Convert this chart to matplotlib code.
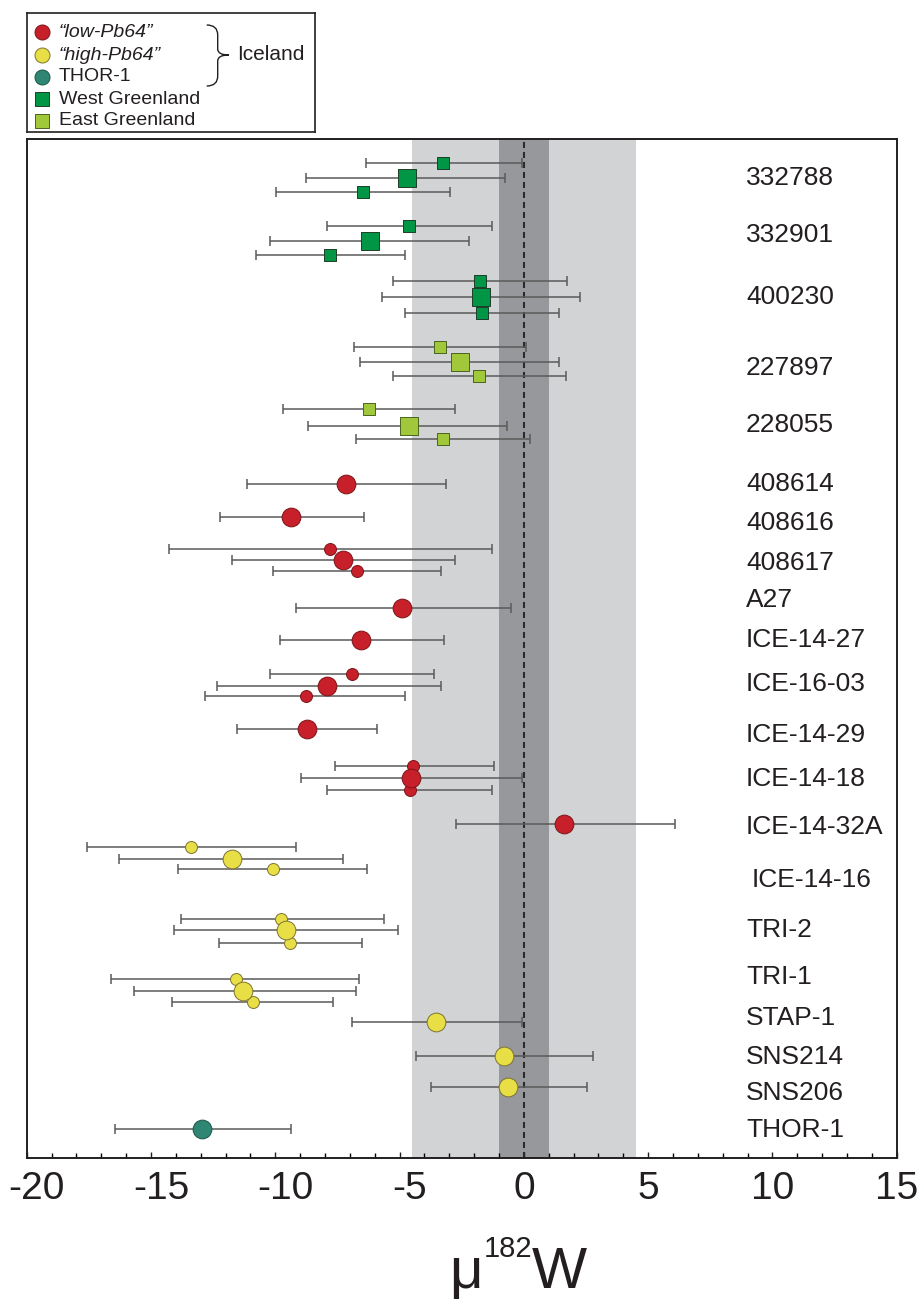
import numpy as np
import matplotlib.pyplot as plt
import matplotlib.transforms as mtransforms
from matplotlib.path import Path
from matplotlib.patches import PathPatch
from matplotlib.ticker import MultipleLocator

plt.rcParams['font.family'] = ['Liberation Sans', 'DejaVu Sans']
plt.rcParams['axes.unicode_minus'] = False

# sample names on the right, row position counted from the top of the frame
samples = ['332788', '332901', '400230', '227897', '228055', '408614', '408616',
           '408617', 'A27', 'ICE-14-27', 'ICE-16-03', 'ICE-14-29', 'ICE-14-18',
           'ICE-14-32A', 'ICE-14-16', 'TRI-2', 'TRI-1', 'STAP-1', 'SNS214',
           'SNS206', 'THOR-1']
sample_row = [4.0, 9.7, 15.9, 23.0, 28.7, 34.6, 38.5, 42.5, 46.2, 50.2, 54.6,
              59.7, 64.1, 68.9, 74.2, 79.2, 83.9, 88.0, 91.9, 95.5, 99.2]

# West Greenland (squares): row, mu182W, error bar ends, mean-of-replicates flag
west_row = [2.5, 4.0, 5.4, 8.8, 10.3, 11.7, 14.3, 15.9, 17.5]
west_mu = [-3.26, -4.72, -6.49, -4.60, -6.18, -7.79, -1.77, -1.72, -1.67]
west_lo = [-6.37, -8.76, -9.99, -7.91, -10.22, -10.79, -5.26, -5.69, -4.77]
west_hi = [-0.07, -0.75, -2.99, -1.30, -2.19, -4.79, 1.73, 2.25, 1.42]
west_big = [0, 1, 0, 0, 1, 0, 0, 1, 0]

# East Greenland
east_row = [20.9, 22.4, 23.8, 27.1, 28.8, 30.1]
east_mu = [-3.37, -2.57, -1.79, -6.23, -4.63, -3.26]
east_lo = [-6.85, -6.61, -5.26, -9.68, -8.69, -6.75]
east_hi = [0.10, 1.40, 1.70, -2.76, -0.68, 0.24]
east_big = [0, 1, 0, 0, 1, 0]

# Iceland "low-Pb64"
low_row = [34.6, 37.9, 41.1, 42.2, 43.3, 47.0, 50.2, 53.6, 54.8, 55.8, 59.1,
           62.8, 64.0, 65.2, 68.6]
low_mu = [-7.15, -9.35, -7.81, -7.29, -6.73, -4.89, -6.54, -6.92, -7.91, -8.78,
          -8.73, -4.44, -4.53, -4.58, 1.63]
low_lo = [-11.12, -12.21, -14.29, -11.74, -10.08, -9.18, -9.80, -10.22, -12.35,
          -12.82, -11.52, -7.60, -8.97, -7.91, -2.74]
low_hi = [-3.14, -6.44, -1.30, -2.78, -3.35, -0.52, -3.21, -3.61, -3.35, -4.79,
          -5.90, -1.20, -0.07, -1.30, 6.07]
low_big = [1, 1, 0, 1, 0, 1, 1, 0, 1, 0, 1, 0, 1, 0, 1]

# Iceland "high-Pb64"
high_row = [70.9, 72.1, 73.1, 78.1, 79.2, 80.5, 84.1, 85.3, 86.4, 88.4, 91.8, 94.9]
high_mu = [-13.39, -11.76, -10.08, -9.75, -9.56, -9.40, -11.59, -11.29, -10.91,
           -3.54, -0.78, -0.63]
high_lo = [-17.57, -16.27, -13.93, -13.79, -14.07, -12.28, -16.62, -15.70, -14.14,
           -6.92, -4.32, -3.75]
high_hi = [-9.18, -7.27, -6.30, -5.62, -5.05, -6.51, -6.63, -6.77, -7.67,
           -0.07, 2.77, 2.55]
high_big = [0, 1, 0, 0, 1, 0, 0, 1, 0, 1, 1, 1]

# THOR-1
thor_row = [99.1]
thor_mu = [-12.94]
thor_lo = [-16.46]
thor_hi = [-9.35]
thor_big = [1]

# terrestrial standard ranges
outer_band = 4.5
inner_band = 1.0
xticks = [-20, -15, -10, -5, 0, 5, 10, 15]

W, H = 920, 1303
fig = plt.figure(figsize=(W / 100, H / 100), dpi=100)
ax = fig.add_axes([26.7 / W, 1 - 1157.5 / H, 870 / W, 1018.5 / H])

ax.axvspan(-outer_band, outer_band, color='#d1d3d4', lw=0, zorder=0)
ax.axvspan(-inner_band, inner_band, color='#97989b', lw=0, zorder=1)
ax.axvline(0, color='#2b2b2b', lw=1.5, ls=(0, (2.9, 1.9)), zorder=2)

groups = [
    (west_row, west_mu, west_lo, west_hi, west_big, 's', '#009646', '#1d3d27'),
    (east_row, east_mu, east_lo, east_hi, east_big, 's', '#a0c83a', '#4a6420'),
    (low_row, low_mu, low_lo, low_hi, low_big, 'o', '#c8202a', '#7a1418'),
    (high_row, high_mu, high_lo, high_hi, high_big, 'o', '#e8df46', '#7d7330'),
    (thor_row, thor_mu, thor_lo, thor_hi, thor_big, 'o', '#2e8673', '#1d5448'),
]
for row, mu, lo, hi, big, mk, fc, ec in groups:
    row = np.array(row)
    mu = np.array(mu)
    err = [mu - np.array(lo), np.array(hi) - mu]
    ax.errorbar(mu, row, xerr=err, fmt='none', ecolor='#5a5a5a',
                elinewidth=1.1, capsize=3.4, capthick=1.1, zorder=3)
    big = np.array(big, dtype=bool)
    ax.scatter(mu[~big], row[~big], s=8.6 ** 2, marker=mk, c=fc,
               edgecolors=ec, linewidths=0.7, zorder=4)
    ax.scatter(mu[big], row[big], s=13.5 ** 2, marker=mk, c=fc,
               edgecolors=ec, linewidths=0.7, zorder=5)

for name, r in zip(samples, sample_row):
    x = 9.15 if name == 'ICE-14-16' else 8.94
    ax.text(x, r, name, fontsize=19, ha='left', va='center', color='#231f20')

ax.set_xlim(-20, 15)
ax.set_ylim(101.9, 0.1)
ax.set_yticks([])
ax.xaxis.set_major_locator(MultipleLocator(5))
ax.xaxis.set_minor_locator(MultipleLocator(1))
ax.set_xticks(xticks)
ax.set_xticklabels([str(t) for t in xticks])
ax.tick_params(axis='x', which='major', direction='in', length=4.5, width=1.0,
               labelsize=28, pad=10, colors='#231f20')
ax.tick_params(axis='x', which='minor', direction='in', length=3.4, width=1.0)
for s in ax.spines.values():
    s.set_linewidth(1.4)
    s.set_color('#231f20')

# negative labels sit a bit right of their ticks in the original
shift = mtransforms.ScaledTranslation(0.10, 0, fig.dpi_scale_trans)
for lab in ax.get_xticklabels():
    if lab.get_text().startswith('-'):
        lab.set_transform(lab.get_transform() + shift)

# x label: mu^182 W, pieces laid out one after another
fig.canvas.draw()
rend = fig.canvas.get_renderer()
t1 = fig.text(449 / W, 1 - 1288 / H, 'μ', fontsize=42,
              va='baseline', ha='left', color='#231f20')
b1 = t1.get_window_extent(rend)
t2 = fig.text((b1.x1 + 1) / W, 1 - 1257 / H, '182', fontsize=21,
              va='baseline', ha='left', color='#231f20')
b2 = t2.get_window_extent(rend)
fig.text(b2.x1 / W, 1 - 1288 / H, 'W', fontsize=42,
         va='baseline', ha='left', color='#231f20')

# legend box with brace for the Iceland groups
lg = fig.add_axes([26.7 / W, 1 - 132 / H, 288 / W, 119 / H])
lg.set_xlim(0, 288)
lg.set_ylim(119, 0)
lg.set_xticks([])
lg.set_yticks([])
for s in lg.spines.values():
    s.set_linewidth(1.2)
    s.set_color('#231f20')

leg_labels = ['“low-Pb64”', '“high-Pb64”', 'THOR-1', 'West Greenland', 'East Greenland']
leg_marker = ['o', 'o', 'o', 's', 's']
leg_fc = ['#c8202a', '#e8df46', '#2e8673', '#009646', '#a0c83a']
leg_ec = ['#7a1418', '#7d7330', '#1d5448', '#1d3d27', '#4a6420']
leg_style = ['italic', 'italic', 'normal', 'normal', 'normal']
leg_y = [19.3, 42.0, 63.7, 86.0, 107.7]
for lab, mk, fc, ec, st, y in zip(leg_labels, leg_marker, leg_fc, leg_ec, leg_style, leg_y):
    ms = 10.8 if mk == 'o' else 9.4
    lg.plot([15.7], [y], marker=mk, ms=ms, mfc=fc, mec=ec, mew=0.7, ls='none')
    lg.text(32, y, lab, fontsize=14, style=st, va='center', ha='left', color='#231f20')

verts = [(180, 12), (191, 12), (191, 22), (191, 36), (191, 42), (202, 42),
         (191, 42), (191, 48), (191, 63), (191, 73), (180, 73)]
codes = [Path.MOVETO, Path.CURVE3, Path.CURVE3, Path.LINETO, Path.CURVE3, Path.CURVE3,
         Path.CURVE3, Path.CURVE3, Path.LINETO, Path.CURVE3, Path.CURVE3]
lg.add_patch(PathPatch(Path(verts, codes), fc='none', ec='#231f20', lw=1.0))
lg.text(210, 42, 'Iceland', fontsize=15, va='center', ha='left', color='#231f20')

fig.savefig('out.png', dpi=100)
